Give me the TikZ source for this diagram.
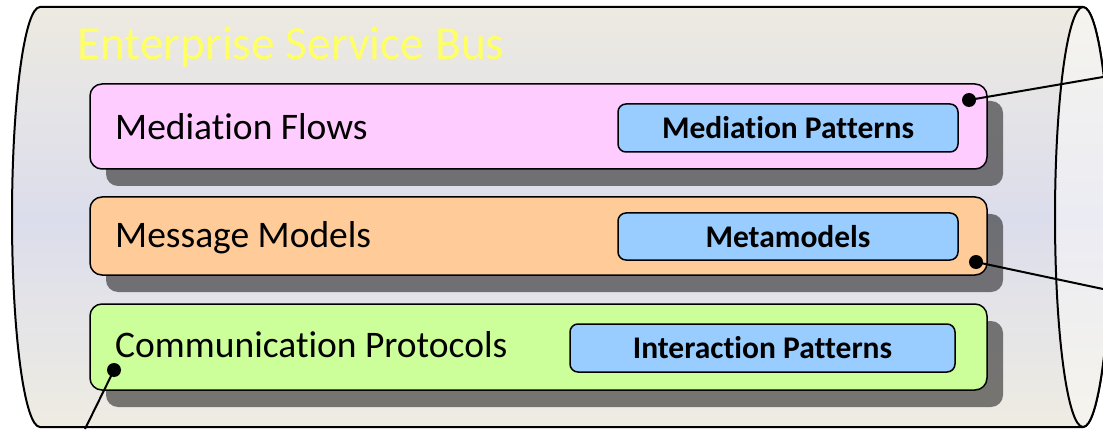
\documentclass[tikz,border=0pt]{standalone}
\usepackage{fontspec}
\setmainfont{Carlito}[Ligatures={NoCommon,NoContextual}]
\usetikzlibrary{shadows}

\definecolor{titleyellow}{HTML}{FFFF66}
\definecolor{busTop}{HTML}{EDEAE1}
\definecolor{busMid}{HTML}{DCDDEC}
\definecolor{busBot}{HTML}{EEECE2}
\definecolor{capTop}{HTML}{F5F4EE}
\definecolor{capMid}{HTML}{EBEBF3}
\definecolor{capBot}{HTML}{F5F4EC}
\definecolor{flowPink}{HTML}{FFCCFF}
\definecolor{modelOrange}{HTML}{FFCC99}
\definecolor{protoGreen}{HTML}{CCFF99}
\definecolor{patternBlue}{HTML}{99CCFF}

\tikzset{
  layerbox/.style={draw=black, line width=1.5pt, rounded corners=12pt,
    minimum width=897pt, inner sep=0pt,
    general shadow={fill=black, fill opacity=0.5, shadow xshift=16pt, shadow yshift=-17pt}},
  patternbox/.style={draw=black, line width=1.5pt, rounded corners=8pt,
    fill=patternBlue, inner sep=0pt, font=\fontsize{31.5}{36}\selectfont\bfseries},
  layerlabel/.style={anchor=base west, inner sep=0pt, font=\fontsize{37.5}{44}\selectfont},
  pin/.style={circle, fill=black, minimum size=14pt, inner sep=0pt},
  leader/.style={line width=2pt},
}

\begin{document}
\begin{tikzpicture}[x=1pt, y=1pt]
\useasboundingbox (0,0) rectangle (1103,429);
\clip (0,0) rectangle (1103,429);

% bus body: a horizontal cylinder
\path[draw=black, line width=2pt, top color=busTop, bottom color=busBot, middle color=busMid]
  (40,422) -- (1083,422)
  arc[start angle=90, end angle=-90, x radius=28pt, y radius=210pt]
  -- (40,2)
  arc[start angle=270, end angle=90, x radius=28pt, y radius=210pt]
  -- cycle;
% visible end face on the right
\path[draw=black, line width=2pt, top color=capTop, bottom color=capBot, middle color=capMid]
  (1083,212) ellipse[x radius=28pt, y radius=210pt];

\node[anchor=base west, inner sep=0pt, text=titleyellow,
      font=\fontsize{47.5}{56}\selectfont] (title) at (77,369) {Enterprise Service Bus};

% layers
\node[layerbox, fill=flowPink, minimum height=85pt] (flows) at (538.5,302.5) {};
\node[layerbox, fill=modelOrange, minimum height=78pt] (models) at (538.5,193) {};
\node[layerbox, fill=protoGreen, minimum height=86pt] (protocols) at (538.5,82) {};

\node[layerlabel] (flowsL) at (115,289) {Mediation Flows};
\node[layerlabel] (modelsL) at (115,182) {Message Models};
\node[layerlabel] (protocolsL) at (115,72) {Communication Protocols};

\node[patternbox, minimum width=340pt, minimum height=48pt] (medpat) at (788,301) {Mediation Patterns};
\node[patternbox, minimum width=340pt, minimum height=47pt] (meta) at (788,192.5) {Metamodels};
\node[patternbox, minimum width=385pt, minimum height=48pt] (inter) at (762.5,81) {Interaction Patterns};

% leader lines from the layers
\node[pin] (p1) at (969,329) {};
\node[pin] (p2) at (976,167) {};
\node[pin] (p3) at (114,59) {};
\coordinate (e1) at (1103,352);
\coordinate (e2) at (1103,140);
\coordinate (e3) at (85,0);
\draw[leader] (p1.center) -- (e1);
\draw[leader] (p2.center) -- (e2);
\draw[leader] (p3.center) -- (e3);
\end{tikzpicture}
\end{document}
